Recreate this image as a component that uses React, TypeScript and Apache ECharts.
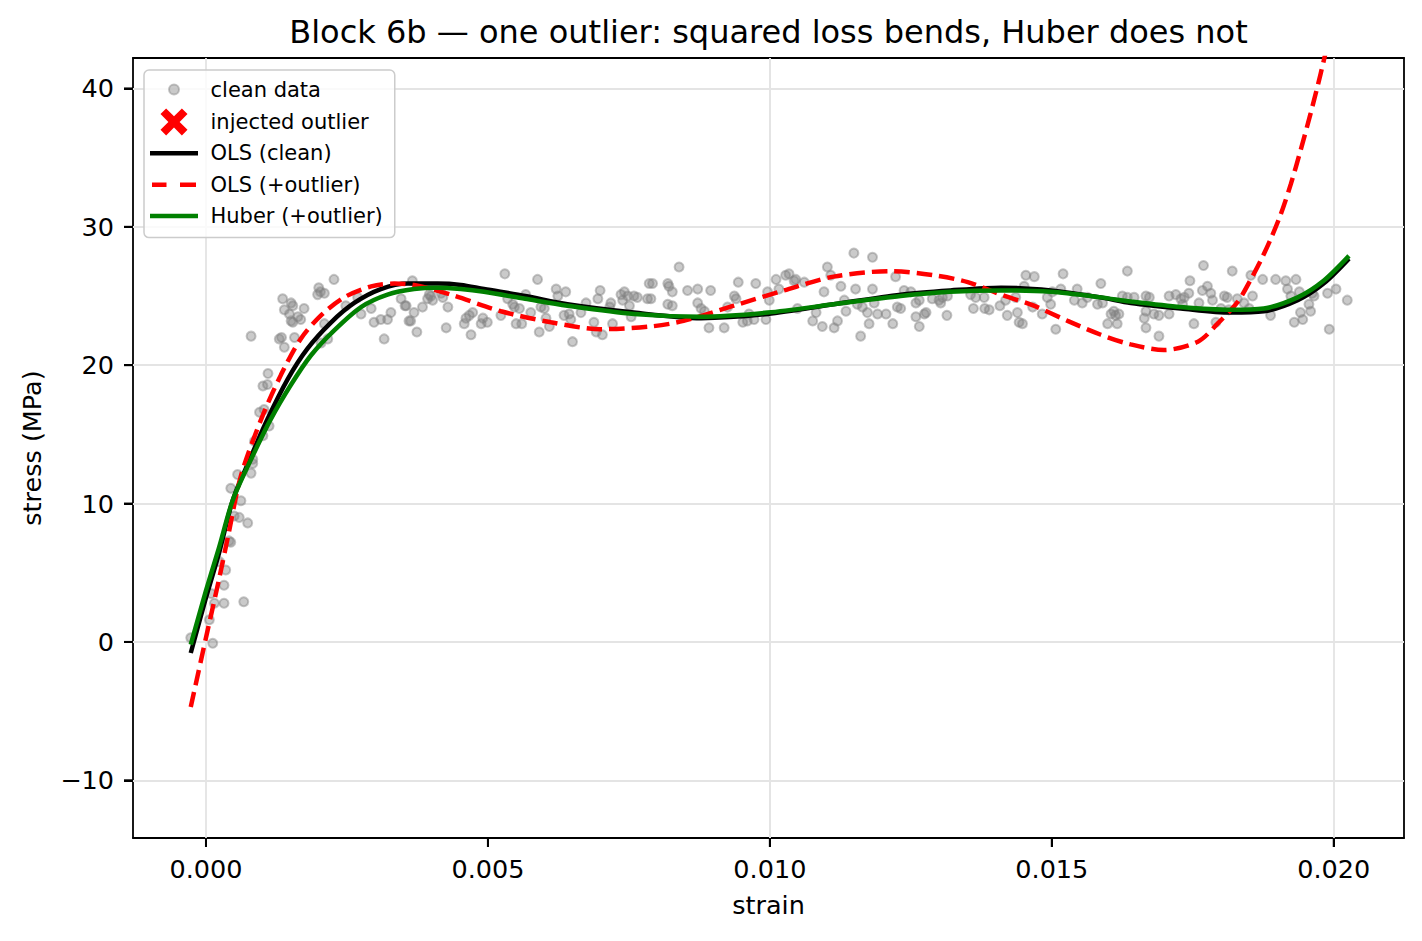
import React, { useEffect, useRef } from "react";
import * as echarts from "echarts";

const FONT = "DejaVu Sans";

const TITLE = "Block 6b — one outlier: squared loss bends, Huber does not";
const X_NAME = "strain";
const Y_NAME = "stress (MPa)";

const X_MIN = -0.001294;
const X_MAX = 0.021246;
const Y_MIN = -14.17;
const Y_MAX = 42.2;

const xTicks = [0, 0.005, 0.01, 0.015, 0.02];
const yTicks = [-10, 0, 10, 20, 30, 40];

// clean data: elastic rise
const cleanRise: [number, number][] = [
  [0.00227, 26.2], [0.002, 25.6], [0.00203, 25.3], [0.00198, 25.1], [0.0021, 25.2],
  [0.00136, 24.8], [0.00151, 24.5], [0.00154, 24.3], [0.00139, 24.0], [0.00174, 24.1],
  [0.00148, 23.7], [0.00163, 23.5], [0.00151, 23.2], [0.00168, 23.3], [0.00154, 23.1],
  [0.0008, 22.1], [0.0013, 21.9], [0.00134, 22.0], [0.00139, 21.3], [0.00157, 22.0],
  [0.0021, 23.0], [0.00216, 21.9], [0.00204, 21.6], [0.00269, 24.9], [0.00275, 23.7],
  [0.00293, 24.1], [0.00298, 23.1], [0.0031, 23.3], [0.00328, 23.8], [0.00322, 23.3],
  [0.00346, 24.8], [0.00355, 24.3], [0.0036, 23.2], [0.00316, 21.9], [0.00248, 24.3],
  [0.0011, 19.4], [0.00101, 18.5], [0.00109, 18.6], [0.00095, 16.6], [0.00103, 16.8],
  [0.00112, 15.6], [0.00101, 14.9], [0.00086, 14.5], [0.00083, 13.2], [0.0008, 12.2],
  [0.00083, 12.9], [0.00056, 12.1], [0.00044, 11.1], [0.00062, 10.2], [0.0005, 9.1],
  [0.00059, 9.0], [0.00074, 8.6], [0.00041, 7.3], [0.00044, 7.2], [0.00035, 5.2],
  [0.00024, 5.8], [0.00032, 4.1], [0.00009, 3.5], [0.00032, 2.8], [0.00015, 2.8],
  [0.00067, 2.9], [0.00006, 1.6], [-0.00027, 0.3], [0.00012, -0.1],
];

// clean data: plateau, first part
const cleanPlateauA: [number, number][] = [
  [0.00366, 26.1], [0.00353, 24.3], [0.00369, 23.8], [0.00363, 23.2], [0.00374, 22.4],
  [0.00384, 24.2], [0.00396, 25.1], [0.00399, 25.0], [0.00402, 24.7], [0.00393, 24.8],
  [0.00417, 25.2], [0.0042, 24.9], [0.00429, 24.2], [0.00426, 22.7], [0.00458, 23.0],
  [0.00461, 23.4], [0.00467, 23.6], [0.00473, 23.8], [0.0047, 22.2], [0.00488, 23.0],
  [0.00491, 23.4], [0.00499, 23.1], [0.00523, 23.6], [0.0053, 26.6], [0.00535, 24.8],
  [0.00544, 24.4], [0.00547, 24.2], [0.0055, 23.0], [0.00556, 24.1], [0.0056, 23.0],
  [0.00567, 25.1], [0.00576, 23.8], [0.00588, 26.2], [0.00591, 22.4], [0.00594, 24.2],
  [0.006, 24.1], [0.00603, 23.4], [0.00609, 22.8], [0.00621, 25.5], [0.00624, 25.0],
  [0.00635, 23.6], [0.00638, 25.3], [0.00644, 23.7], [0.00647, 23.3], [0.0065, 21.7],
  [0.00665, 23.8], [0.00674, 24.5], [0.00688, 23.1], [0.00692, 22.4], [0.00695, 24.8],
  [0.00699, 25.4], [0.00703, 22.2], [0.00718, 24.5], [0.00716, 24.2], [0.00721, 23.0],
  [0.00736, 25.1], [0.00739, 24.7], [0.00742, 25.3], [0.00748, 25.0], [0.00751, 24.3],
  [0.00754, 23.5], [0.00759, 25.0], [0.00765, 24.9], [0.00783, 24.8], [0.00786, 25.9],
];

// clean data: plateau, middle part
const cleanPlateauB: [number, number][] = [
  [0.00792, 25.9], [0.00789, 24.8], [0.00819, 25.9], [0.00821, 25.7], [0.00827, 25.3],
  [0.00839, 27.1], [0.00819, 24.4], [0.00827, 24.3], [0.00854, 25.4], [0.00872, 25.5],
  [0.00872, 24.5], [0.00878, 24.1], [0.00884, 23.9], [0.00895, 25.4], [0.00892, 22.7],
  [0.00919, 22.7], [0.00925, 24.2], [0.00937, 25.0], [0.0094, 24.8], [0.00944, 26.0],
  [0.00952, 23.1], [0.0096, 23.2], [0.00963, 23.7], [0.00972, 23.3], [0.00975, 25.9],
  [0.00993, 23.3], [0.00996, 25.3], [0.00999, 24.7], [0.01011, 26.2], [0.01016, 25.5],
  [0.01028, 26.5], [0.01034, 26.6], [0.01043, 26.1], [0.01046, 26.2], [0.01049, 24.1],
  [0.01061, 26.0], [0.01076, 23.2], [0.01082, 23.8], [0.01093, 22.8], [0.01096, 25.3],
  [0.01102, 27.1], [0.01108, 26.5], [0.01114, 22.7], [0.0112, 23.2], [0.01126, 25.7],
  [0.01132, 24.7], [0.01135, 23.9], [0.01149, 28.1], [0.01152, 25.5], [0.01155, 24.4],
  [0.01161, 22.1], [0.01164, 24.2], [0.01173, 23.8], [0.01176, 23.0], [0.01182, 25.5],
  [0.01182, 27.8], [0.01185, 24.5], [0.01191, 23.7], [0.01206, 23.7], [0.01218, 23.0],
  [0.01223, 26.4], [0.01226, 24.2],
];

// clean data: plateau, late part
const cleanPlateauC: [number, number][] = [
  [0.01232, 24.1], [0.01238, 25.4], [0.0125, 25.3], [0.01259, 24.5], [0.01265, 24.7],
  [0.01259, 23.5], [0.01265, 22.8], [0.01274, 23.7], [0.01277, 23.8], [0.01288, 24.8],
  [0.013, 24.7], [0.01303, 24.5], [0.01306, 24.9], [0.01315, 25.0], [0.01314, 23.6],
  [0.01356, 25.1], [0.01361, 24.1], [0.01365, 24.9], [0.0138, 24.9], [0.01381, 24.1],
  [0.01389, 24.0], [0.01408, 24.3], [0.01418, 24.7], [0.01421, 23.6], [0.01436, 24.9],
  [0.01439, 23.8], [0.01442, 23.1], [0.01448, 23.0], [0.01451, 25.7], [0.01454, 26.5],
  [0.01469, 26.4], [0.01466, 24.2], [0.01483, 23.7], [0.01492, 24.9], [0.01498, 24.4],
  [0.01501, 25.3], [0.01507, 22.6], [0.01516, 25.5], [0.0152, 26.6], [0.0154, 24.7],
  [0.01545, 25.5], [0.01554, 24.5], [0.01563, 24.9], [0.01581, 24.4], [0.01587, 25.9],
  [0.0159, 24.5], [0.01605, 23.7], [0.0161, 23.9], [0.01613, 23.6], [0.01616, 23.0],
  [0.01619, 23.7], [0.01599, 23.0], [0.01625, 25.0], [0.01634, 24.9], [0.01634, 26.8],
];

// clean data: end of plateau
const cleanPlateauD: [number, number][] = [
  [0.01646, 24.9], [0.01667, 25.0], [0.01673, 24.9], [0.01667, 23.9], [0.01664, 23.4],
  [0.01667, 22.7], [0.01681, 23.7], [0.0169, 23.6], [0.0169, 22.1], [0.01708, 23.7],
  [0.01708, 25.0], [0.0172, 25.1], [0.01729, 24.8], [0.01732, 24.4], [0.01735, 24.9],
  [0.01745, 26.1], [0.01743, 25.2], [0.01752, 23.0], [0.01761, 24.5], [0.01767, 25.4],
  [0.01769, 27.2], [0.01776, 25.7], [0.01782, 25.2], [0.01785, 24.7], [0.01791, 23.1],
  [0.018, 24.1], [0.01806, 25.0], [0.01811, 24.9], [0.01814, 24.0], [0.0182, 26.8],
  [0.01829, 24.8], [0.01841, 24.5], [0.0185, 24.1], [0.01853, 26.5], [0.01856, 25.0],
  [0.01874, 26.2], [0.01888, 23.6], [0.01897, 26.2], [0.01915, 26.1], [0.01918, 25.5],
  [0.01924, 25.0], [0.01933, 26.2], [0.0193, 23.1], [0.01939, 25.3], [0.01941, 23.8],
  [0.01945, 23.3], [0.01956, 24.4], [0.01959, 23.9], [0.01962, 25.2], [0.01965, 25.0],
  [0.01989, 25.2], [0.01992, 22.6], [0.02004, 25.5], [0.02024, 24.7],
];

// injected outlier (lies above the visible range)
const outlierData: [number, number][] = [[0.0198, 90]];

const olsClean: [number, number][] = [
  [-0.00027, -0.8], [0, 3.2], [0.00023, 6.4], [0.00048, 10.3], [0.0008, 13.4],
  [0.00109, 16.1], [0.00145, 19.0], [0.0018, 21.2], [0.00222, 23.1], [0.00263, 24.5],
  [0.0031, 25.5], [0.00358, 25.9], [0.00411, 25.9], [0.00452, 25.8], [0.00493, 25.5],
  [0.00566, 25.0], [0.00641, 24.4], [0.00759, 23.8], [0.00878, 23.4], [0.00996, 23.7],
  [0.01113, 24.4], [0.01232, 25.1], [0.0132, 25.4], [0.0141, 25.6], [0.01498, 25.4],
  [0.01587, 24.9], [0.0164, 24.5], [0.01729, 24.1], [0.01817, 23.8], [0.01876, 23.9],
  [0.01936, 24.7], [0.01982, 25.9], [0.02027, 27.7],
];

const olsOutlier: [number, number][] = [
  [-0.00027, -4.7], [0, 0.3], [0.00023, 4.5], [0.00039, 7.6], [0.00062, 12.0],
  [0.00098, 16.1], [0.00133, 19.3], [0.00168, 21.9], [0.00204, 23.6], [0.00245, 24.9],
  [0.00293, 25.7], [0.00334, 25.9], [0.00369, 25.8], [0.00434, 25.1], [0.00523, 23.9],
  [0.00612, 23.1], [0.007, 22.6], [0.00789, 22.8], [0.00847, 23.2], [0.00936, 24.3],
  [0.01025, 25.4], [0.01113, 26.4], [0.01215, 26.8], [0.01291, 26.5], [0.01351, 26.0],
  [0.0141, 25.1], [0.01468, 24.3], [0.01528, 23.2], [0.01587, 22.2], [0.0164, 21.5],
  [0.01699, 21.1], [0.01759, 21.7], [0.01794, 23.0], [0.0183, 24.6], [0.01853, 26.2],
  [0.01871, 27.6], [0.01888, 29.1], [0.01906, 30.9], [0.01924, 33.1], [0.01941, 35.5],
  [0.01959, 38.2], [0.01977, 41.1], [0.01995, 44.3], [0.02027, 50.5],
];

const huberOutlier: [number, number][] = [
  [-0.00027, -0.2], [0, 3.7], [0.00023, 6.8], [0.00048, 10.3], [0.0008, 13.2],
  [0.00115, 16.1], [0.00151, 18.6], [0.00186, 20.7], [0.00227, 22.5], [0.00275, 24.2],
  [0.00322, 25.1], [0.00369, 25.5], [0.00411, 25.6], [0.00452, 25.5], [0.00493, 25.3],
  [0.00566, 24.8], [0.00641, 24.3], [0.00759, 23.7], [0.00878, 23.5], [0.00996, 23.8],
  [0.01113, 24.4], [0.01232, 25.0], [0.0132, 25.3], [0.0141, 25.4], [0.01498, 25.3],
  [0.01587, 24.9], [0.0164, 24.6], [0.01729, 24.2], [0.01817, 24.0], [0.01876, 24.1],
  [0.01936, 24.9], [0.01982, 26.1], [0.02027, 27.9],
];

const X_ICON = "path://M0 5L5 0L12 7L19 0L24 5L17 12L24 19L19 24L12 17L5 24L0 19L7 12Z";
const CIRCLE_ICON = "path://M0 0M27 27M8.5 13.5A5 5 0 1 1 18.5 13.5A5 5 0 1 1 8.5 13.5Z";
const SOLID_ICON = "path://M0 0H48V4.5H0Z";
const DASH_ICON = "path://M0 0M48 4.5M2 0H16.5V4.5H2Z M30 0H46V4.5H30Z";

const TICK_LEN = 9;

const cleanData = [...cleanRise, ...cleanPlateauA, ...cleanPlateauB, ...cleanPlateauC, ...cleanPlateauD];

function renderTicks(_params: any, api: any) {
  const children: any[] = [];
  const style = { stroke: "#000000", lineWidth: 2, fill: "none" };
  xTicks.forEach((v) => {
    const p = api.coord([v, Y_MIN]);
    children.push({ type: "line", shape: { x1: p[0], y1: p[1], x2: p[0], y2: p[1] + TICK_LEN }, style });
  });
  yTicks.forEach((v) => {
    const p = api.coord([X_MIN, v]);
    children.push({ type: "line", shape: { x1: p[0] - TICK_LEN, y1: p[1], x2: p[0], y2: p[1] }, style });
  });
  return { type: "group", children };
}

function buildOption(): any {
  const labelText = { fontFamily: FONT, fontSize: 25.5, color: "#000" };
  const spine = { show: true, onZero: false, lineStyle: { color: "#000", width: 1.8 } };
  const tick = { show: true, length: TICK_LEN, lineStyle: { color: "#000", width: 2 } };
  return {
    animation: false,
    title: {
      text: TITLE,
      left: 768.5,
      top: 16,
      textAlign: "center",
      padding: 0,
      textStyle: { fontFamily: FONT, fontSize: 32, fontWeight: "normal", color: "#000" },
    },
    grid: {
      left: 133,
      right: 18,
      top: 58,
      bottom: 103,
      containLabel: false,
      outerBoundsMode: "none",
    },
    legend: {
      orient: "vertical",
      left: 144,
      top: 70,
      padding: [5, 12, 8, 6],
      itemWidth: 48,
      itemHeight: 27,
      itemGap: 4.4,
      selectedMode: false,
      backgroundColor: "rgba(255,255,255,0.8)",
      borderColor: "#cccccc",
      borderWidth: 1.5,
      borderRadius: 5,
      textStyle: { fontFamily: FONT, fontSize: 21, lineHeight: 27, color: "#000", padding: [0, 0, 0, 7.5] },
      data: [
        { name: "clean data", icon: CIRCLE_ICON },
        { name: "injected outlier", icon: X_ICON },
        { name: "OLS (clean)", icon: SOLID_ICON },
        { name: "OLS (+outlier)", icon: DASH_ICON },
        { name: "Huber (+outlier)", icon: SOLID_ICON },
      ],
    },
    xAxis: [
      {
        type: "value",
        position: "bottom",
        min: X_MIN,
        max: X_MAX,
        name: X_NAME,
        nameLocation: "middle",
        nameGap: 54,
        nameTextStyle: labelText,
        axisLine: spine,
        splitLine: { show: false },
        axisTick: { ...tick, customValues: xTicks },
        axisLabel: {
          customValues: xTicks,
          formatter: (v: number) => v.toFixed(3),
          margin: 18,
          ...labelText,
        },
      },
      {
        type: "value",
        position: "top",
        min: X_MIN,
        max: X_MAX,
        axisLine: spine,
        splitLine: { show: false },
        axisTick: { show: false },
        axisLabel: { show: false },
      },
    ],
    yAxis: [
      {
        type: "value",
        position: "left",
        min: Y_MIN,
        max: Y_MAX,
        name: Y_NAME,
        nameLocation: "middle",
        nameRotate: 90,
        nameGap: 88,
        nameTextStyle: labelText,
        axisLine: spine,
        splitLine: { show: false },
        axisTick: { ...tick, customValues: yTicks },
        axisLabel: {
          customValues: yTicks,
          formatter: (v: number) => (v < 0 ? "\u2212" + Math.abs(v) : String(v)),
          margin: 19,
          ...labelText,
        },
      },
      {
        type: "value",
        position: "right",
        min: Y_MIN,
        max: Y_MAX,
        axisLine: spine,
        splitLine: { show: false },
        axisTick: { show: false },
        axisLabel: { show: false },
      },
    ],
    series: [
      {
        name: "clean data",
        type: "scatter",
        data: cleanData,
        symbol: "circle",
        symbolSize: 9,
        itemStyle: {
          color: "rgba(128,128,128,0.42)",
          borderColor: "rgba(128,128,128,0.45)",
          borderWidth: 2,
          opacity: 1,
        },
        emphasis: { disabled: true },
        markLine: {
          silent: true,
          symbol: ["none", "none"],
          z: 1,
          label: { show: false },
          emphasis: { disabled: true },
          lineStyle: { color: "#e4e4e4", width: 1.8, type: "solid" },
          data: [
            ...xTicks.map((v) => ({ xAxis: v })),
            ...yTicks.map((v) => ({ yAxis: v })),
          ],
        },
      },
      {
        name: "injected outlier",
        type: "scatter",
        data: outlierData,
        symbol: X_ICON,
        symbolSize: 27,
        clip: true,
        itemStyle: { color: "#ff0000", opacity: 1 },
        emphasis: { disabled: true },
      },
      {
        name: "OLS (clean)",
        type: "line",
        data: olsClean,
        symbol: "none",
        smooth: 0.3,
        clip: true,
        lineStyle: { color: "#000000", width: 4.5 },
        itemStyle: { color: "#000000" },
        emphasis: { disabled: true },
      },
      {
        name: "OLS (+outlier)",
        type: "line",
        data: olsOutlier,
        symbol: "none",
        smooth: 0.3,
        clip: true,
        lineStyle: { color: "#ff0000", width: 4.5, type: [15.5, 7] },
        itemStyle: { color: "#ff0000" },
        emphasis: { disabled: true },
      },
      {
        name: "Huber (+outlier)",
        type: "line",
        data: huberOutlier,
        symbol: "none",
        smooth: 0.3,
        clip: true,
        lineStyle: { color: "#008000", width: 4.5 },
        itemStyle: { color: "#008000" },
        emphasis: { disabled: true },
      },
      {
        name: "axis ticks",
        type: "custom",
        silent: true,
        clip: false,
        z: 20,
        data: [[0, 0]],
        renderItem: renderTicks,
      },
    ],
  };
}

export default function App() {
  const ref = useRef<HTMLDivElement>(null);
  useEffect(() => {
    if (!ref.current) return;
    const chart = echarts.init(ref.current, null, { renderer: "svg" });
    chart.setOption(buildOption());
    return () => {
      chart.dispose();
    };
  }, []);
  return (
    <div
      ref={ref}
      style={{ position: "absolute", left: 0, top: 0, width: 1422, height: 941, background: "#ffffff" }}
    />
  );
}
